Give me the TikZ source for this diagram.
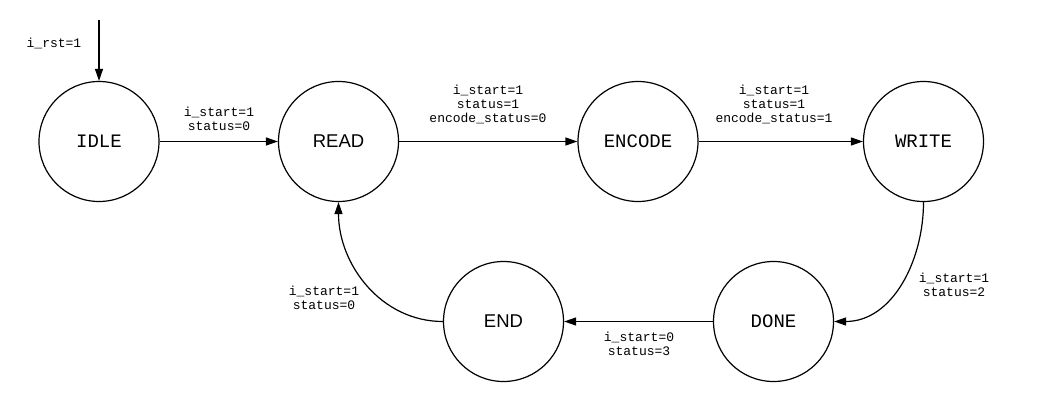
\documentclass[tikz,border=0pt]{standalone}
\usepackage{fontspec}
\setmonofont{Liberation Mono}
\setsansfont{Liberation Sans}
\usetikzlibrary{arrows.meta}
\tikzset{
  state/.style={draw, circle, minimum size=120pt, inner sep=0pt, line width=1.2pt,
    font=\ttfamily\fontsize{19}{22}\selectfont},
  sstate/.style={state, font=\sffamily\fontsize{18.5}{22}\selectfont},
  cond/.style={align=center, inner sep=0pt, font=\ttfamily\fontsize{13}{14}\selectfont},
  trans/.style={-{Triangle[length=12pt,width=8pt]}, line width=1.2pt}
}
\begin{document}
\begin{tikzpicture}[x=1pt,y=-1pt]
            \useasboundingbox (0,0) rectangle (1056,406);
            % states
            \node[state]  (IDLE)   at (99,141.5)    {IDLE};
            \node[sstate] (READ)   at (338.5,141.5) {READ};
            \node[state]  (ENCODE) at (638,141.5)   {ENCODE};
            \node[state]  (WRITE)  at (923.5,141.5) {WRITE};
            \node[state]  (DONE)   at (773.5,321.5) {DONE};
            \node[sstate] (END)    at (503.5,321.5) {END};
            % reset
            \coordinate (rst) at (99,20);
            \draw[trans] (rst) -- (IDLE.north);
            \node[cond] (lrst) at (54,43) {i\_rst=1};
            % transitions
            \draw[trans] (IDLE) -- (READ);
            \draw[trans] (READ) -- (ENCODE);
            \draw[trans] (ENCODE) -- (WRITE);
            \draw[trans] (WRITE.south) to[out=-90,in=0] (DONE.east);
            \draw[trans] (DONE) -- (END);
            \draw[trans] (END.west) to[out=180,in=-90] (READ.south);
            % conditions
            \node[cond] (lidle)  at (219,119)   {i\_start=1\\status=0};
            \node[cond] (lread)  at (488,104)   {i\_start=1\\status=1\\encode\_status=0};
            \node[cond] (lenc)   at (774,104)   {i\_start=1\\status=1\\encode\_status=1};
            \node[cond] (lwrite) at (954,285)   {i\_start=1\\status=2};
            \node[cond] (ldone)  at (639,344)   {i\_start=0\\status=3};
            \node[cond] (lend)   at (324,298)   {i\_start=1\\status=0};
        \end{tikzpicture}
\end{document}
